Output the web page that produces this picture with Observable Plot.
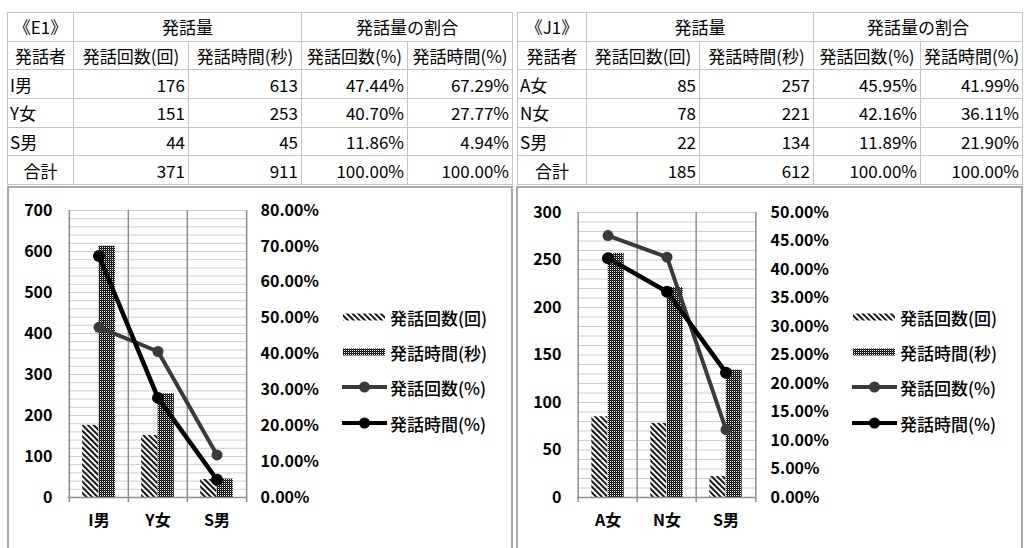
<!DOCTYPE html>
<html><head><meta charset="utf-8">
<script src="https://cdn.jsdelivr.net/npm/d3@7"></script>
<script src="https://cdn.jsdelivr.net/npm/@observablehq/plot@0.6"></script>
<style>
body{margin:0;background:#fff;width:1026px;height:548px;overflow:hidden;position:relative;font-family:"Noto Sans CJK JP",sans-serif;color:#000;}
table{position:absolute;border-collapse:collapse;table-layout:fixed;font-size:17px;}
td{border:1px solid #c4c4c4;padding:0 3px;line-height:1;white-space:nowrap;overflow:hidden;}
tr{height:28.67px;}
td.c{text-align:center;} td.r{text-align:right;} td.l{text-align:left;padding-left:2px;}
.frame{position:absolute;border:2px solid #a9a9a9;border-bottom:none;box-sizing:border-box;}
.plot{position:absolute;}
.leg{position:absolute;display:flex;align-items:center;font-size:17px;font-weight:500;white-space:nowrap;}
.leg svg{margin-right:3px;}
</style></head>
<body>
<svg width="0" height="0" style="position:absolute">
  <defs>
    <pattern id="hatch" width="4" height="4" patternUnits="userSpaceOnUse" patternTransform="rotate(-45)">
      <rect x="0" y="0" width="1.8" height="4" fill="#000"/>
    </pattern>
    <pattern id="dense" width="2" height="2" patternUnits="userSpaceOnUse">
      <rect x="0" y="0" width="1" height="1" fill="#000"/>
      <rect x="1" y="1" width="1" height="1" fill="#000"/>
      <rect x="1" y="0" width="1" height="1" fill="#333"/>
      <rect x="0" y="1" width="1" height="1" fill="#fff"/>
    </pattern>
  </defs>
</svg>
<script>
// ---- data ----
const e1Label = "《E1》";
const e1Speakers = ["I男", "Y女", "S男"];
const e1Counts = [176, 151, 44];
const e1Times = [613, 253, 45];
const e1CountPct = [47.44, 40.70, 11.86];
const e1TimePct = [67.29, 27.77, 4.94];
const e1TotalCount = 371;
const e1TotalTime = 911;

const j1Label = "《J1》";
const j1Speakers = ["A女", "N女", "S男"];
const j1Counts = [85, 78, 22];
const j1Times = [257, 221, 134];
const j1CountPct = [45.95, 42.16, 11.89];
const j1TimePct = [41.99, 36.11, 21.90];
const j1TotalCount = 185;
const j1TotalTime = 612;

const e1LeftTicks = [0, 100, 200, 300, 400, 500, 600, 700];
const e1RightTicks = [0, 10, 20, 30, 40, 50, 60, 70, 80];
const j1LeftTicks = [0, 50, 100, 150, 200, 250, 300];
const j1RightTicks = [0, 5, 10, 15, 20, 25, 30, 35, 40, 45, 50];

const groupHeaders = ["発話量", "発話量の割合"];
const colHeaders = ["発話者", "発話回数(回)", "発話時間(秒)", "発話回数(%)", "発話時間(%)"];
const totalLabel = "合計";
const legendLabels = ["発話回数(回)", "発話時間(秒)", "発話回数(%)", "発話時間(%)"];

// ---- tables ----
function makeTable(label, speakers, counts, times, cp, tp, tc, tt, left, widths) {
  const t = document.createElement("table");
  t.style.left = left + "px"; t.style.top = "12px";
  t.style.width = d3.sum(widths) + "px";
  let h = "<colgroup>" + widths.map(w => `<col style="width:${w}px">`).join("") + "</colgroup>";
  h += `<tr><td class="c">${label}</td><td class="c" colspan="2">${groupHeaders[0]}</td><td class="c" colspan="2">${groupHeaders[1]}</td></tr>`;
  h += "<tr>" + colHeaders.map(c => `<td class="c">${c}</td>`).join("") + "</tr>";
  speakers.forEach((s, i) => {
    h += `<tr><td class="l">${s}</td><td class="r">${counts[i]}</td><td class="r">${times[i]}</td><td class="r">${cp[i].toFixed(2)}%</td><td class="r">${tp[i].toFixed(2)}%</td></tr>`;
  });
  h += `<tr><td class="c">${totalLabel}</td><td class="r">${tc}</td><td class="r">${tt}</td><td class="r">${(100).toFixed(2)}%</td><td class="r">${(100).toFixed(2)}%</td></tr>`;
  t.innerHTML = h;
  document.body.appendChild(t);
}
makeTable(e1Label, e1Speakers, e1Counts, e1Times, e1CountPct, e1TimePct, e1TotalCount, e1TotalTime, 7, [66, 115, 113, 106, 105]);
makeTable(j1Label, j1Speakers, j1Counts, j1Times, j1CountPct, j1TimePct, j1TotalCount, j1TotalTime, 517, [69, 113, 114, 107, 102]);

// ---- frames ----
function frame(left, width) {
  const f = document.createElement("div");
  f.className = "frame";
  Object.assign(f.style, {left: left + "px", top: "186px", width: width + "px", height: "380px"});
  document.body.appendChild(f);
}
frame(7, 506);
frame(516, 507);

// ---- charts ----
const FONT = '"Noto Sans CJK JP", sans-serif';
function chart(o) {
  const W = 500, H = 360;
  const k = o.yMax / o.pMax;
  const rows = o.speakers.map((s, i) => ({s, c: o.counts[i], t: o.times[i], cp: o.cp[i], tp: o.tp[i]}));
  const step = (W - o.ml - o.mr) / o.speakers.length;
  const bw = 16.5;
  const grid = d3.range(0, o.yMax + 1e-6, o.minor);
  const p = Plot.plot({
    width: W, height: H,
    marginTop: o.mt, marginBottom: 51, marginLeft: o.ml, marginRight: o.mr,
    style: {fontFamily: FONT, fontSize: "16px", fontWeight: "bold", color: "#000", background: "transparent", overflow: "visible"},
    x: {type: "band", domain: o.speakers, padding: 0, tickSize: 0, tickPadding: 17, label: null},
    y: {domain: [0, o.yMax], ticks: o.yTicks, tickSize: 0, tickPadding: 16, label: null},
    marks: [
      Plot.ruleY(grid, {stroke: "#cdcdcd", strokeWidth: 1}),
      Plot.ruleX(o.speakers, {x: d => d, dx: -step / 2, stroke: "#8f8f8f", strokeWidth: 1.5, insetBottom: -5}),
      Plot.ruleX(o.speakers.slice(-1), {x: d => d, dx: step / 2, stroke: "#8f8f8f", strokeWidth: 1.5, insetBottom: -5}),
      Plot.barY(rows, {x: "s", y: "c", fill: "url(#hatch)", insetLeft: step / 2 - bw, insetRight: step / 2}),
      Plot.barY(rows, {x: "s", y: "t", fill: "url(#dense)", insetLeft: step / 2, insetRight: step / 2 - bw}),
      Plot.ruleY([0], {stroke: "#8f8f8f", strokeWidth: 1.5}),
      Plot.line(rows, {x: "s", y: d => d.cp * k, stroke: "#3a3a3a", strokeWidth: 4}),
      Plot.dot(rows, {x: "s", y: d => d.cp * k, r: 5.5, fill: "#3a3a3a"}),
      Plot.line(rows, {x: "s", y: d => d.tp * k, stroke: "#000", strokeWidth: 4.5}),
      Plot.dot(rows, {x: "s", y: d => d.tp * k, r: 6, fill: "#000"}),
      Plot.text(o.pTicks, {y: d => d * k, text: d => d.toFixed(2) + "%", frameAnchor: "right", dx: 14, textAnchor: "start", fill: "#000"})
    ]
  });
  p.classList.add("plot");
  p.style.left = o.left + "px";
  p.style.top = "188px";
  document.body.appendChild(p);
}
chart({speakers: e1Speakers, counts: e1Counts, times: e1Times, cp: e1CountPct, tp: e1TimePct,
  yMax: 700, pMax: 80, yTicks: e1LeftTicks, pTicks: e1RightTicks, minor: 20, mt: 22, ml: 60, mr: 262, left: 8});
chart({speakers: j1Speakers, counts: j1Counts, times: j1Times, cp: j1CountPct, tp: j1TimePct,
  yMax: 300, pMax: 50, yTicks: j1LeftTicks, pTicks: j1RightTicks, minor: 10, mt: 24, ml: 59, mr: 262, left: 518});

// ---- legends ----
function swatch(i) {
  if (i === 0) return `<svg width="45" height="14"><rect x="1" y="3.5" width="42" height="7" fill="url(#hatch)"/></svg>`;
  if (i === 1) return `<svg width="45" height="14"><rect x="1" y="3.5" width="42" height="7" fill="url(#dense)"/></svg>`;
  const c = i === 2 ? "#3a3a3a" : "#000";
  return `<svg width="45" height="14"><line x1="0" y1="7" x2="45" y2="7" stroke="${c}" stroke-width="4"/><circle cx="22.5" cy="7" r="5.5" fill="${c}"/></svg>`;
}
function legend(x, ys) {
  legendLabels.forEach((lab, i) => {
    const d = document.createElement("div");
    d.className = "leg";
    d.style.left = x + "px";
    d.style.top = (ys[i] - 12) + "px";
    d.style.height = "24px";
    d.innerHTML = swatch(i) + `<span>${lab}</span>`;
    document.body.appendChild(d);
  });
}
legend(342, [317, 352, 387, 423]);
legend(852, [317, 352, 387, 423]);
</script>
</body></html>
